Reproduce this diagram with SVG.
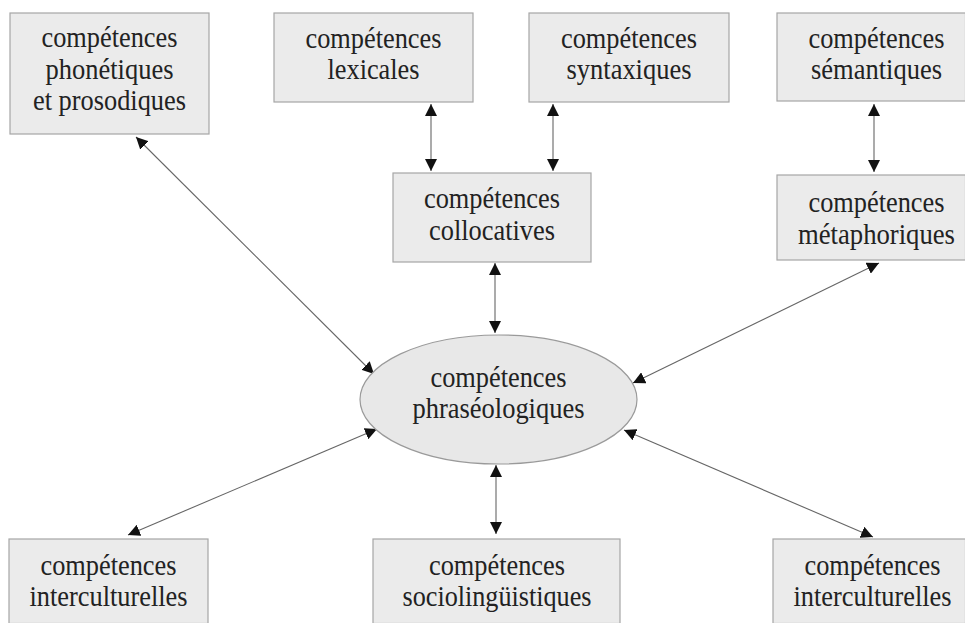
<svg xmlns="http://www.w3.org/2000/svg" width="965" height="623" viewBox="0 0 965 623">
  <defs>
    <marker id="head" viewBox="0 0 12 12" refX="12" refY="6" markerWidth="12" markerHeight="12" markerUnits="userSpaceOnUse" orient="auto-start-reverse">
      <path d="M0,0 L12,6 L0,12 Z" fill="#111"/>
    </marker>
    <style>
      .box { fill: #ebebeb; stroke: #a6a6a6; stroke-width: 1.2; }
      .oval { fill: #e8e8e8; stroke: #9a9a9a; stroke-width: 1.2; }
      .lbl { font-family: "Liberation Serif", "Times New Roman", serif; font-size: 29px; fill: #222; text-anchor: middle; }
      .link { stroke: #666; stroke-width: 1.1; fill: none; marker-start: url(#head); marker-end: url(#head); }
    </style>
  </defs>
  <rect width="965" height="623" fill="#ffffff"/>

  <!-- connectors -->
  <g id="connectors">
    <line class="link" x1="136" y1="137" x2="374" y2="374"/>
    <line class="link" x1="431" y1="104" x2="431" y2="171"/>
    <line class="link" x1="553" y1="104" x2="553" y2="171"/>
    <line class="link" x1="874" y1="104" x2="874" y2="172"/>
    <line class="link" x1="495" y1="263" x2="495" y2="333"/>
    <line class="link" x1="879" y1="263" x2="633" y2="383"/>
    <line class="link" x1="377" y1="429" x2="128" y2="535"/>
    <line class="link" x1="496" y1="465" x2="496" y2="534"/>
    <line class="link" x1="624" y1="430" x2="873" y2="537"/>
  </g>

  <!-- nodes (labels slightly condensed via textLength) -->
  <g id="phonetiques">
    <rect class="box" x="10" y="13" width="199" height="121"/>
    <text class="lbl" x="109.5" y="47" textLength="136" lengthAdjust="spacingAndGlyphs">compétences</text>
    <text class="lbl" x="109.5" y="79" textLength="128" lengthAdjust="spacingAndGlyphs">phonétiques</text>
    <text class="lbl" x="109.5" y="110" textLength="153" lengthAdjust="spacingAndGlyphs">et prosodiques</text>
  </g>
  <g id="lexicales">
    <rect class="box" x="274" y="13" width="199" height="89"/>
    <text class="lbl" x="373.5" y="48" textLength="136" lengthAdjust="spacingAndGlyphs">compétences</text>
    <text class="lbl" x="373.5" y="79" textLength="92" lengthAdjust="spacingAndGlyphs">lexicales</text>
  </g>
  <g id="syntaxiques">
    <rect class="box" x="529" y="13" width="200" height="89"/>
    <text class="lbl" x="629" y="48" textLength="136" lengthAdjust="spacingAndGlyphs">compétences</text>
    <text class="lbl" x="629" y="79" textLength="125" lengthAdjust="spacingAndGlyphs">syntaxiques</text>
  </g>
  <g id="semantiques">
    <rect class="box" x="777" y="13" width="188.5" height="88"/>
    <text class="lbl" x="876.5" y="48" textLength="136" lengthAdjust="spacingAndGlyphs">compétences</text>
    <text class="lbl" x="876.5" y="79" textLength="131" lengthAdjust="spacingAndGlyphs">sémantiques</text>
  </g>
  <g id="collocatives">
    <rect class="box" x="393" y="173" width="198" height="89"/>
    <text class="lbl" x="492" y="208" textLength="136" lengthAdjust="spacingAndGlyphs">compétences</text>
    <text class="lbl" x="492" y="240" textLength="126" lengthAdjust="spacingAndGlyphs">collocatives</text>
  </g>
  <g id="metaphoriques">
    <rect class="box" x="777" y="175" width="188.5" height="85"/>
    <text class="lbl" x="876.5" y="212" textLength="136" lengthAdjust="spacingAndGlyphs">compétences</text>
    <text class="lbl" x="876.5" y="244" textLength="157" lengthAdjust="spacingAndGlyphs">métaphoriques</text>
  </g>
  <g id="phraseologiques">
    <ellipse class="oval" cx="498.5" cy="399.5" rx="138.5" ry="64.5"/>
    <text class="lbl" x="498.5" y="387" textLength="136" lengthAdjust="spacingAndGlyphs">compétences</text>
    <text class="lbl" x="498.5" y="418" textLength="172" lengthAdjust="spacingAndGlyphs">phraséologiques</text>
  </g>
  <g id="interculturelles-gauche">
    <rect class="box" x="9" y="539" width="199" height="84.5"/>
    <text class="lbl" x="108.5" y="575" textLength="136" lengthAdjust="spacingAndGlyphs">compétences</text>
    <text class="lbl" x="108.5" y="606" textLength="158" lengthAdjust="spacingAndGlyphs">interculturelles</text>
  </g>
  <g id="sociolinguistiques">
    <rect class="box" x="373" y="539" width="247" height="84.5"/>
    <text class="lbl" x="497" y="575" textLength="136" lengthAdjust="spacingAndGlyphs">compétences</text>
    <text class="lbl" x="497" y="606" textLength="189" lengthAdjust="spacingAndGlyphs">sociolingüistiques</text>
  </g>
  <g id="interculturelles-droite">
    <rect class="box" x="773" y="539" width="192.5" height="84.5"/>
    <text class="lbl" x="872.5" y="575" textLength="136" lengthAdjust="spacingAndGlyphs">compétences</text>
    <text class="lbl" x="872.5" y="606" textLength="158" lengthAdjust="spacingAndGlyphs">interculturelles</text>
  </g>
</svg>
